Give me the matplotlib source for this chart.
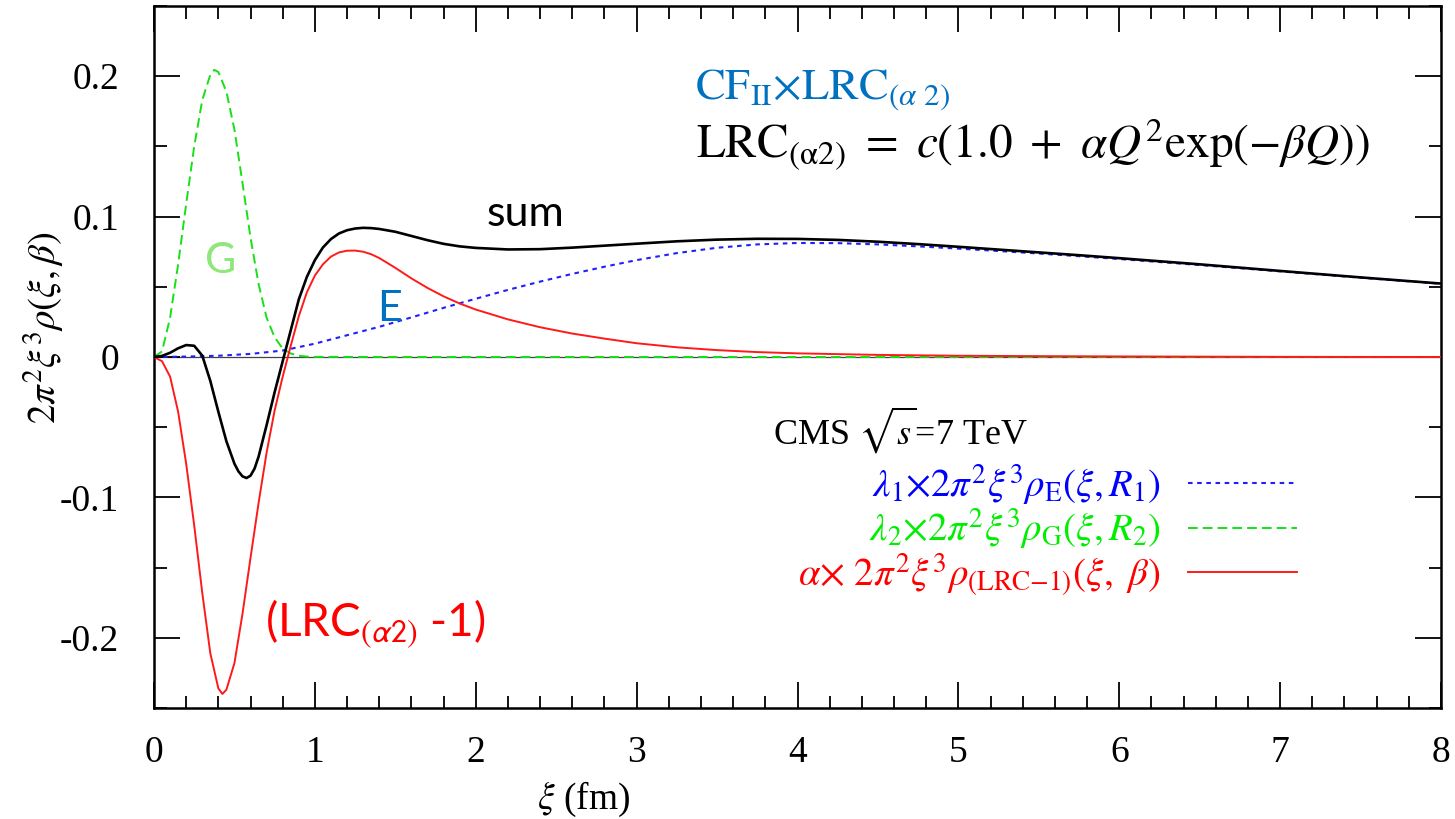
import matplotlib
matplotlib.use("Agg")
import matplotlib.pyplot as plt
from matplotlib.ticker import MultipleLocator, FuncFormatter
from matplotlib.lines import Line2D

plt.rcParams["mathtext.fontset"] = "stix"
plt.rcParams["axes.unicode_minus"] = False
plt.rcParams["font.family"] = ["Liberation Serif", "DejaVu Serif"]

# Gaussian source component  lambda_2 * 2 pi^2 xi^3 rho_G
xi_g = [0.00, 0.05, 0.10, 0.15, 0.20, 0.25, 0.30, 0.35, 0.375, 0.40, 0.45, 0.50,
        0.55, 0.60, 0.65, 0.70, 0.75, 0.80, 0.85, 0.90, 0.95, 1.00, 1.50, 8.00]
rho_g = [0.000, 0.004, 0.028, 0.066, 0.109, 0.150, 0.183, 0.201, 0.2045, 0.203, 0.189, 0.162,
         0.124, 0.085, 0.052, 0.028, 0.014, 0.006, 0.0025, 0.0009, 0.0003, 0.0001, 0.0, 0.0]

# Exponential source component  lambda_1 * 2 pi^2 xi^3 rho_E
xi_e = [0.0, 0.2, 0.4, 0.6, 0.8, 1.0, 1.2, 1.4, 1.6, 1.8, 2.0, 2.2, 2.4, 2.6, 2.8, 3.0,
        3.25, 3.5, 3.75, 4.0, 4.25, 4.5, 4.75, 5.0, 5.25, 5.5, 5.75, 6.0, 6.5, 7.0, 7.5, 8.0]
rho_e = [0.0, 0.0003, 0.0009, 0.0022, 0.0046, 0.0095, 0.0155, 0.0215, 0.0282, 0.0350, 0.0415,
         0.0478, 0.0537, 0.0592, 0.0643, 0.0690, 0.0740, 0.0778, 0.0802, 0.0812, 0.0811,
         0.0802, 0.0788, 0.0772, 0.0755, 0.0737, 0.0718, 0.0698, 0.0655, 0.0610, 0.0565, 0.0522]

# Long-range correlation term  alpha * 2 pi^2 xi^3 rho_(LRC-1)
xi_l = [0.00, 0.05, 0.10, 0.15, 0.20, 0.25, 0.30, 0.35, 0.40, 0.425, 0.45, 0.50, 0.55, 0.60,
        0.65, 0.70, 0.75, 0.80, 0.85, 0.90, 0.95, 1.00, 1.05, 1.10, 1.15, 1.20, 1.25, 1.30,
        1.35, 1.40, 1.50, 1.60, 1.70, 1.80, 1.90, 2.00, 2.20, 2.40, 2.60, 2.80, 3.00, 3.25,
        3.50, 3.75, 4.00, 4.50, 5.00, 5.50, 6.00, 7.00, 8.00]
rho_l = [0.000, -0.003, -0.014, -0.039, -0.076, -0.120, -0.168, -0.211, -0.236, -0.240, -0.237,
         -0.218, -0.183, -0.143, -0.104, -0.068, -0.038, -0.014, 0.008, 0.029, 0.046, 0.058,
         0.066, 0.0715, 0.0745, 0.0757, 0.0758, 0.0750, 0.0732, 0.0705, 0.0635, 0.0560, 0.0492,
         0.0432, 0.0381, 0.0338, 0.0268, 0.0212, 0.0167, 0.0131, 0.0098, 0.0069, 0.0049, 0.0035,
         0.0026, 0.0015, 0.0009, 0.0006, 0.0004, 0.0001, 0.0000]

# Total
xi_s = [0.00, 0.05, 0.10, 0.15, 0.20, 0.25, 0.30, 0.35, 0.40, 0.45, 0.50, 0.525, 0.55, 0.575,
        0.60, 0.625, 0.65, 0.70, 0.75, 0.80, 0.85, 0.90, 0.95, 1.00, 1.05, 1.10, 1.15, 1.20,
        1.25, 1.30, 1.35, 1.40, 1.50, 1.60, 1.70, 1.80, 1.90, 2.00, 2.20, 2.40, 2.60, 2.80,
        3.00, 3.25, 3.50, 3.75, 4.00, 4.25, 4.50, 4.75, 5.00, 5.25, 5.50, 5.75, 6.00, 6.50,
        7.00, 7.50, 8.00]
rho_s = [0.000, 0.0008, 0.0030, 0.0062, 0.0085, 0.0080, 0.0010, -0.0170, -0.0390, -0.0600,
         -0.0760, -0.0815, -0.0850, -0.0862, -0.0845, -0.0795, -0.0710, -0.0485, -0.0250,
         -0.0030, 0.0190, 0.0410, 0.0570, 0.0690, 0.0780, 0.0840, 0.0880, 0.0903, 0.0915,
         0.0920, 0.0918, 0.0912, 0.0892, 0.0862, 0.0832, 0.0806, 0.0788, 0.0777, 0.0766,
         0.0768, 0.0779, 0.0793, 0.0807, 0.0824, 0.0836, 0.0842, 0.0841, 0.0834, 0.0821,
         0.0804, 0.0785, 0.0765, 0.0745, 0.0725, 0.0704, 0.0660, 0.0613, 0.0567, 0.0523]

y_ticks = [-0.2, -0.1, 0.0, 0.1, 0.2]
x_ticks = [0, 1, 2, 3, 4, 5, 6, 7, 8]

legend_labels = [
    r"$\lambda_1{\times}2\pi^2\xi^3\rho_{\mathrm{E}}(\xi,R_1)$",
    r"$\lambda_2{\times}2\pi^2\xi^3\rho_{\mathrm{G}}(\xi,R_2)$",
    r"$\alpha{\times}\ 2\pi^2\xi^3\rho_{\mathrm{(LRC{-}1)}}(\xi,\ \beta)$",
]

C_BLUE = "#2020ff"
C_GREEN = "#16e016"
C_RED = "#ff1a1a"
C_NOTE = "#0070c0"

fig = plt.figure(figsize=(14.55, 8.19), dpi=100)
ax = fig.add_axes([154 / 1455, 1 - 708 / 819, (1441 - 154) / 1455, (708 - 6) / 819])

ax.axhline(0.0, color="#444444", lw=0.9, zorder=1)
ax.plot(xi_g, rho_g, color=C_GREEN, lw=1.4, dashes=(5, 2.6), zorder=2)
ax.plot(xi_e, rho_e, color=C_BLUE, lw=1.5, dashes=(2.2, 2.2), zorder=3)
ax.plot(xi_l, rho_l, color=C_RED, lw=1.4, zorder=4)
ax.plot(xi_s, rho_s, color="black", lw=1.9, zorder=5)

ax.set_xlim(0, 8)
ax.set_ylim(-0.25, 0.25)
ax.set_xticks(x_ticks)
ax.set_yticks(y_ticks)
ax.xaxis.set_minor_locator(MultipleLocator(0.2))
ax.yaxis.set_minor_locator(MultipleLocator(0.05))
ax.yaxis.set_major_formatter(FuncFormatter(lambda v, p: f"{v:g}"))
ax.tick_params(which="both", direction="in", top=True, right=True, width=1.3, color="black")
ax.tick_params(which="major", length=19)
ax.tick_params(which="minor", length=9)
ax.tick_params(axis="x", which="major", labelsize=27, pad=20)
ax.tick_params(axis="y", which="major", labelsize=27, pad=25)
for s in ax.spines.values():
    s.set_linewidth(1.8)

fig.text(584 / 1455, 1 - 799 / 819, r"$\xi$ (fm)", fontsize=27, ha="center", va="center")
fig.text(44 / 1455, 1 - 328 / 819, r"$2\pi^2\xi^3\rho(\xi,\beta)$", fontsize=28,
         rotation=90, ha="center", va="center")

handles = [Line2D([], [], color=C_BLUE, lw=1.5, dashes=(2.2, 2.2)),
           Line2D([], [], color=C_GREEN, lw=1.4, dashes=(5, 2.6)),
           Line2D([], [], color=C_RED, lw=1.4)]
leg = ax.legend(handles, legend_labels, loc="upper right", markerfirst=False, frameon=False,
                bbox_to_anchor=((1297 - 154) / 1287, (708 - 462) / 702), fontsize=28,
                handlelength=2.8, handletextpad=0.7, labelspacing=0.0, borderpad=0,
                borderaxespad=0)
for t, c in zip(leg.get_texts(), ["#0000ff", "#00ee00", "#ff0000"]):
    t.set_color(c)

ax.text(3.845, -0.062, r"CMS $\sqrt{s}$=7 TeV", fontsize=26, va="baseline")

ax.text(3.36, 0.183, r"$\mathrm{CF}_{\mathrm{II}}{\times}\mathrm{LRC}_{(\alpha\ 2)}$",
        fontsize=32, color=C_NOTE, va="baseline")
ax.text(3.37, 0.142,
        r"$\mathrm{LRC}_{(\mathrm{\alpha}2)}\ =\ c(1.0\ +\ \alpha Q^2\mathrm{exp}(-\beta Q))$",
        fontsize=34, color="black", va="baseline")

ax.text(2.07, 0.0936, "sum", fontsize=31, family="Lato", va="baseline")
ax.text(0.317, 0.060, "G", fontsize=31, family="Lato", color="#8fe67a", va="baseline")
ax.text(1.385, 0.0257, "E", fontsize=31, family="Lato", color=C_NOTE, va="baseline")
ax.text(0.69, -0.199, r"(LRC$_{(\alpha2)}$ -1)", fontsize=33, family="Lato",
        math_fontfamily="stixsans", color="#ff0000", va="baseline")

fig.savefig("out.png", dpi=100)
